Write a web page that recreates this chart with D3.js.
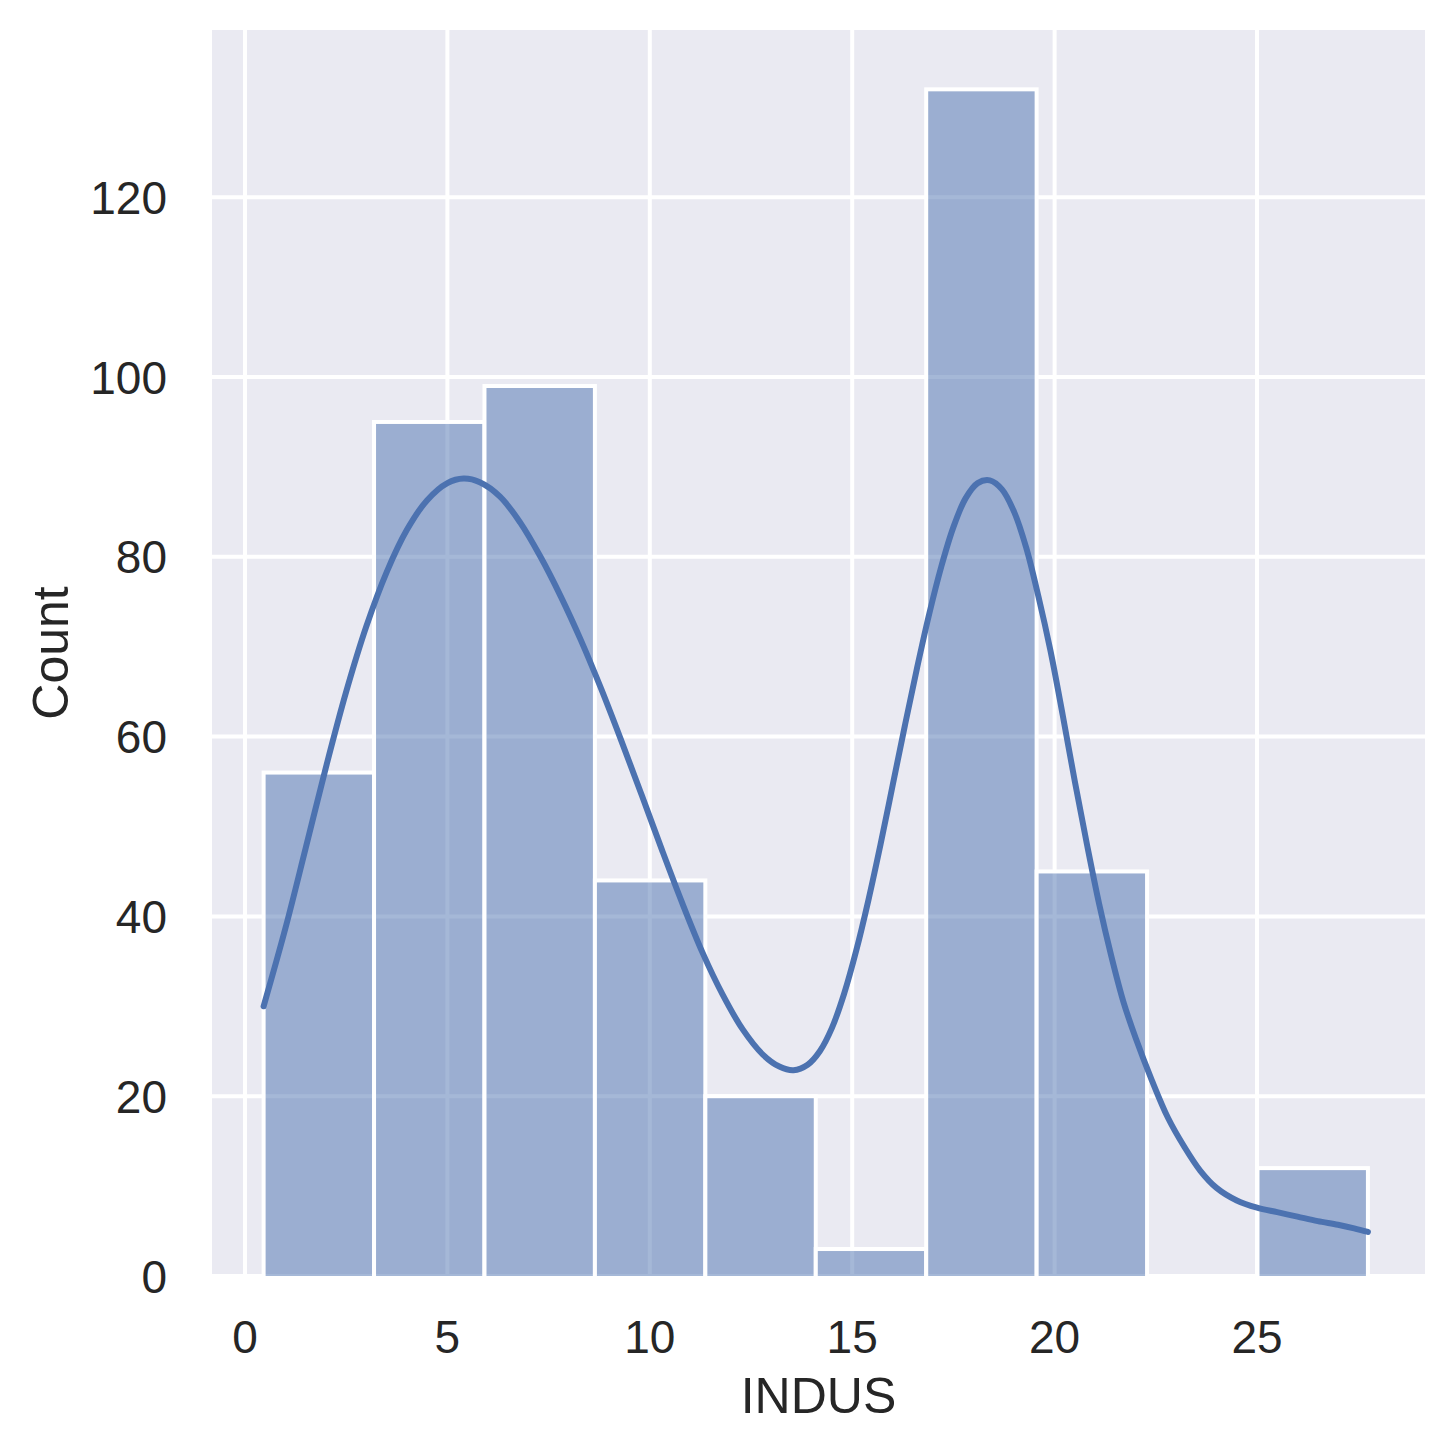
<!DOCTYPE html>
<html>
<head>
<meta charset="utf-8">
<script src="https://cdn.jsdelivr.net/npm/d3@7"></script>
<style>
  html, body { margin: 0; padding: 0; background: #ffffff; }
  svg { display: block; }
  text { font-family: "Liberation Sans", Arial, sans-serif; fill: #262626; }
</style>
</head>
<body>
<script>
// ---- data ----
const binEdges = [0.46, 3.188, 5.916, 8.644, 11.372, 14.1, 16.828, 19.556, 22.284, 25.012, 27.74];
const binCounts = [56, 95, 99, 44, 20, 3, 132, 45, 0, 12];

const kdeX = [0.46, 1.0, 1.5, 2.0, 2.5, 3.0, 3.5, 4.0, 4.5, 5.0, 5.4, 5.8, 6.3, 6.8, 7.3, 7.8, 8.3, 8.8,
  9.3, 9.8, 10.3, 10.8, 11.3, 11.8, 12.3, 12.8, 13.2, 13.55, 13.9, 14.2, 14.5, 14.8, 15.1, 15.4, 15.7,
  16.0, 16.3, 16.6, 16.9, 17.2, 17.5, 17.8, 18.1, 18.4, 18.7, 19.0, 19.3, 19.6, 19.9, 20.2, 20.5, 20.8,
  21.1, 21.4, 21.7, 22.0, 22.4, 22.8, 23.2, 23.6, 24.0, 24.5, 25.0, 25.5, 26.0, 26.5, 27.0, 27.4, 27.74];
const kdeY = [30.0, 38.7, 47.6, 56.6, 65.0, 72.3, 78.3, 83.0, 86.3, 88.2, 88.7, 88.3, 86.7, 83.8, 80.0, 75.6, 70.7, 65.3,
  59.5, 53.5, 47.4, 41.5, 36.0, 31.3, 27.4, 24.6, 23.3, 22.9, 23.5, 25.0, 27.6, 31.4, 36.2, 41.8, 48.0,
  54.6, 61.2, 67.6, 73.6, 78.9, 83.3, 86.5, 88.2, 88.5, 87.5, 85.0, 81.0, 75.6, 69.5, 62.4, 55.0, 48.0,
  41.4, 35.6, 30.5, 26.5, 21.8, 17.6, 14.4, 11.7, 9.8, 8.4, 7.6, 7.1, 6.6, 6.1, 5.7, 5.3, 4.9];

const xTicks = [0, 5, 10, 15, 20, 25];
const yTicks = [0, 20, 40, 60, 80, 100, 120];
const xLabel = "INDUS";
const yLabel = "Count";

// ---- layout ----
const W = 1452, H = 1453;
const plot = { left: 212, right: 1425, top: 30, bottom: 1276 };

const svg = d3.select("body").append("svg").attr("width", W).attr("height", H);

const x = d3.scaleLinear().domain([-0.815, 29.15]).range([plot.left, plot.right]);
const y = d3.scaleLinear().domain([0, 138.6]).range([plot.bottom, plot.top]);

svg.append("defs").append("clipPath").attr("id", "clip")
  .append("rect")
  .attr("x", plot.left).attr("y", plot.top)
  .attr("width", plot.right - plot.left).attr("height", plot.bottom - plot.top);

// background
svg.append("rect")
  .attr("x", plot.left).attr("y", plot.top)
  .attr("width", plot.right - plot.left).attr("height", plot.bottom - plot.top)
  .attr("fill", "#EAEAF2");

const g = svg.append("g").attr("clip-path", "url(#clip)");

// grid
g.selectAll("line.vg").data(xTicks).enter().append("line")
  .attr("x1", d => x(d)).attr("x2", d => x(d))
  .attr("y1", plot.top).attr("y2", plot.bottom)
  .attr("stroke", "#ffffff").attr("stroke-width", 4);
g.selectAll("line.hg").data(yTicks).enter().append("line")
  .attr("y1", d => y(d)).attr("y2", d => y(d))
  .attr("x1", plot.left).attr("x2", plot.right)
  .attr("stroke", "#ffffff").attr("stroke-width", 4);

// bars
const bins = binCounts.map((c, i) => ({ x0: binEdges[i], x1: binEdges[i + 1], c }));
g.selectAll("rect.bar").data(bins.filter(b => b.c > 0)).enter().append("rect")
  .attr("x", d => x(d.x0))
  .attr("width", d => x(d.x1) - x(d.x0))
  .attr("y", d => y(d.c))
  .attr("height", d => y(0) - y(d.c) + 4)
  .attr("fill", "rgba(76,114,176,0.5)")
  .attr("stroke", "#ffffff")
  .attr("stroke-width", 4);

// kde line
const kde = kdeX.map((v, i) => [v, kdeY[i]]);
svg.append("path")
  .datum(kde)
  .attr("d", d3.line().x(d => x(d[0])).y(d => y(d[1])).curve(d3.curveCatmullRom.alpha(0.5)))
  .attr("fill", "none")
  .attr("stroke", "#4C72B0")
  .attr("stroke-width", 6)
  .attr("stroke-linecap", "round")
  .attr("stroke-linejoin", "round");

// tick labels
svg.selectAll("text.xt").data(xTicks).enter().append("text")
  .attr("x", d => x(d)).attr("y", 1353)
  .attr("text-anchor", "middle")
  .attr("font-size", 46)
  .text(d => d);
svg.selectAll("text.yt").data(yTicks).enter().append("text")
  .attr("x", 167).attr("y", d => y(d) + 16.5)
  .attr("text-anchor", "end")
  .attr("font-size", 46)
  .text(d => d);

// axis labels
svg.append("text")
  .attr("x", (plot.left + plot.right) / 2).attr("y", 1413)
  .attr("text-anchor", "middle")
  .attr("font-size", 50)
  .text(xLabel);
svg.append("text")
  .attr("transform", `translate(68, ${(plot.top + plot.bottom) / 2}) rotate(-90)`)
  .attr("text-anchor", "middle")
  .attr("font-size", 50)
  .text(yLabel);
</script>
</body>
</html>
